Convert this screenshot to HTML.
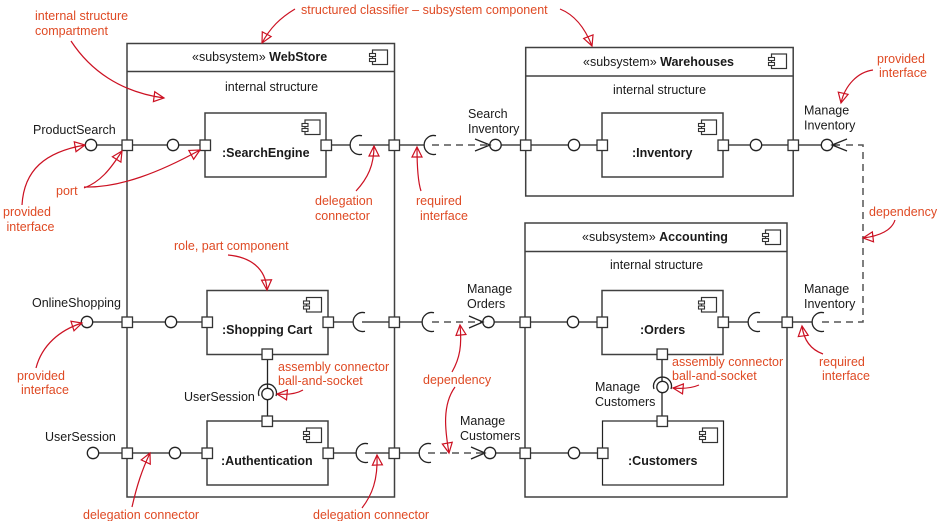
<!DOCTYPE html>
<html><head><meta charset="utf-8"><style>
html,body{margin:0;padding:0;background:#fff}
svg{display:block}
text{font-family:"Liberation Sans",sans-serif;font-size:12.5px;fill:#1a1a1a}
.r{fill:#df4a24}
.b{font-weight:bold}
.box{fill:#fff;stroke:#404040;stroke-width:1.5}
.thin{fill:#fff;stroke:#222;stroke-width:1.2}
.l{fill:none;stroke:#222;stroke-width:1.3}
.d{fill:none;stroke:#555;stroke-width:1.5;stroke-dasharray:7 5}
.c{fill:none;stroke:#cc1122;stroke-width:1.2;marker-end:url(#a)}
.ball{fill:#fff;stroke:#222;stroke-width:1.3}
.p{fill:#fff;stroke:#333;stroke-width:1.3}
.o{fill:none;stroke:#222;stroke-width:1.3}
</style></head><body>
<svg width="940" height="521" viewBox="0 0 940 521" xmlns="http://www.w3.org/2000/svg">
<defs>
<marker id="a" markerUnits="userSpaceOnUse" markerWidth="14" markerHeight="14" refX="10" refY="5" orient="auto" overflow="visible">
<path d="M0 0L10 5L0 10Z" fill="none" stroke="#cc1122" stroke-width="1.2"/>
</marker>
<g id="ic"><rect x="3" y="0" width="15" height="14.5" fill="#fff" stroke="#333" stroke-width="1.2"/><rect x="0" y="3.5" width="6" height="3" fill="#fff" stroke="#333" stroke-width="1.1"/><rect x="0" y="8.5" width="6" height="3" fill="#fff" stroke="#333" stroke-width="1.1"/></g>
</defs>

<!-- subsystems -->
<rect class="box" x="127" y="43.5" width="267.5" height="453.5"/><path class="box" d="M127 71.5H394.5"/>
<rect class="box" x="525.7" y="47.5" width="267.5" height="148.5"/><path class="box" d="M525.7 76H793"/>
<rect class="box" x="525" y="223" width="262" height="274"/><path class="box" d="M525 251.5H787"/>
<use href="#ic" x="369.5" y="50"/><use href="#ic" x="768.5" y="54"/><use href="#ic" x="762.5" y="230"/>

<!-- row 1 wires -->
<path class="l" d="M97 145H205M331 145H350.5M359 145H424.5M501 145H602M728 145H821M833 145H840"/>
<!-- row 2 wires -->
<path class="l" d="M93 322H207M333 322H353M362 322H422M494 322H602M728 322H748M757 322H812"/>
<!-- row 3 wires -->
<path class="l" d="M99 453H207M333 453H356M365 453H419M496 453H602"/>
<!-- vertical assemblies -->
<path class="l" d="M267.5 354V421M662 354V421"/>

<!-- dashed -->
<path class="d" d="M432 145H488M432 322H482M428 453H484"/>
<path class="d" d="M846 145H863V322H822"/>

<!-- parts -->
<rect class="box" x="205" y="113" width="121" height="64"/>
<rect class="box" x="602" y="113" width="121" height="64"/>
<rect class="box" x="207" y="290.5" width="121" height="64"/>
<rect class="box" x="207" y="421" width="121" height="64"/>
<rect class="box" x="602" y="290.5" width="121" height="64"/>
<rect class="thin" x="602.5" y="421" width="121" height="64"/>
<use href="#ic" x="302" y="120"/><use href="#ic" x="698.5" y="120"/>
<use href="#ic" x="303.5" y="297.5"/><use href="#ic" x="303.5" y="428"/>
<use href="#ic" x="698.5" y="297.5"/><use href="#ic" x="699.5" y="428"/>

<!-- balls -->
<g class="ball">
<circle cx="91" cy="145" r="5.7"/><circle cx="173" cy="145" r="5.7"/><circle cx="574" cy="145" r="5.7"/><circle cx="756" cy="145" r="5.7"/><circle cx="495.5" cy="145" r="5.7"/><circle cx="827" cy="145" r="5.7"/>
<circle cx="87" cy="322" r="5.7"/><circle cx="171" cy="322" r="5.7"/><circle cx="573" cy="322" r="5.7"/><circle cx="488.5" cy="322" r="5.7"/>
<circle cx="93" cy="453" r="5.7"/><circle cx="175" cy="453" r="5.7"/><circle cx="574" cy="453" r="5.7"/><circle cx="490" cy="453" r="5.7"/>
<circle cx="267.5" cy="394" r="5.7"/><circle cx="662.5" cy="387" r="5.7"/>
</g>

<!-- sockets -->
<g class="o">
<path d="M362 135.8A9.5 9.5 0 1 0 362 154.200"/><path d="M436 135.8A9.5 9.5 0 1 0 436 154.200"/>
<path d="M365 312.8A9.5 9.5 0 1 0 365 331.200"/><path d="M434 312.8A9.5 9.5 0 1 0 434 331.200"/>
<path d="M760 312.8A9.5 9.5 0 1 0 760 331.200"/><path d="M824 312.8A9.5 9.5 0 1 0 824 331.200"/>
<path d="M368 443.8A9.5 9.5 0 1 0 368 462.200"/><path d="M431 443.8A9.5 9.5 0 1 0 431 462.200"/>
<path d="M259 396A9 9 0 1 1 276 396"/><path d="M654 389A9 9 0 1 1 671 389"/>
</g>

<!-- open arrows -->
<g class="o">
<path d="M475 139L490 145L475 151"/><path d="M469 316L483 322L469 328"/><path d="M471 447L485 453L471 459"/>
<path d="M847 139L832 145L847 151"/>
</g>

<!-- ports -->
<g class="p">
<rect x="122" y="140" width="10.500" height="10.500"/><rect x="200" y="140" width="10.500" height="10.500"/><rect x="321" y="140" width="10.500" height="10.500"/><rect x="389" y="140" width="10.500" height="10.500"/><rect x="520.500" y="140" width="10.500" height="10.500"/><rect x="597" y="140" width="10.500" height="10.500"/><rect x="718" y="140" width="10.500" height="10.500"/><rect x="788" y="140" width="10.500" height="10.500"/>
<rect x="122" y="317" width="10.500" height="10.500"/><rect x="202" y="317" width="10.500" height="10.500"/><rect x="323" y="317" width="10.500" height="10.500"/><rect x="389" y="317" width="10.500" height="10.500"/><rect x="520" y="317" width="10.500" height="10.500"/><rect x="597" y="317" width="10.500" height="10.500"/><rect x="718" y="317" width="10.500" height="10.500"/><rect x="782" y="317" width="10.500" height="10.500"/>
<rect x="122" y="448" width="10.500" height="10.500"/><rect x="202" y="448" width="10.500" height="10.500"/><rect x="323" y="448" width="10.500" height="10.500"/><rect x="389" y="448" width="10.500" height="10.500"/><rect x="520" y="448" width="10.500" height="10.500"/><rect x="597.500" y="448" width="10.500" height="10.500"/>
<rect x="262" y="349" width="10.500" height="10.500"/><rect x="262" y="416" width="10.500" height="10.500"/><rect x="657" y="349" width="10.500" height="10.500"/><rect x="657" y="416" width="10.500" height="10.500"/>
</g>

<!-- curves -->
<path class="c" d="M71 41C90 70 120 92 164 98"/>
<path class="c" d="M295 9C280 18 270 28 262 43"/>
<path class="c" d="M560 9C575 15 585 28 592 46"/>
<path class="c" d="M22 205C24 170 45 152 85 145"/>
<path class="c" d="M84 188C100 182 110 170 122 151"/>
<path class="c" d="M84 187C120 188 160 172 200 150"/>
<path class="c" d="M356 191C368 178 374 165 374 146"/>
<path class="c" d="M421 191C418 182 417 165 417 147"/>
<path class="c" d="M895 220C892 230 880 236 863 238"/>
<path class="c" d="M873 70C858 72 845 85 841 103"/>
<path class="c" d="M228 255C250 257 266 268 267 290"/>
<path class="c" d="M36 368C42 345 60 330 82 323"/>
<path class="c" d="M303 390C296 394 288 395 277 394"/>
<path class="c" d="M452 372C460 358 462 345 460 325"/>
<path class="c" d="M455 387C442 405 445 430 449 453"/>
<path class="c" d="M132 507C137 485 142 470 150 453"/>
<path class="c" d="M362 508C372 495 378 480 377 455"/>
<path class="c" d="M699 385C692 388 684 389 673 388"/>
<path class="c" d="M823 354C812 350 804 342 802 326"/>

<!-- black text -->
<text x="192" y="61">«subsystem» <tspan class="b">WebStore</tspan></text>
<text x="583" y="66">«subsystem» <tspan class="b">Warehouses</tspan></text>
<text x="582" y="241">«subsystem» <tspan class="b">Accounting</tspan></text>
<text x="225" y="91">internal structure</text>
<text x="613" y="94">internal structure</text>
<text x="610" y="269">internal structure</text>
<text x="222" y="157" class="b">:SearchEngine</text>
<text x="632" y="157" class="b">:Inventory</text>
<text x="222" y="334" class="b">:Shopping Cart</text>
<text x="221" y="465" class="b">:Authentication</text>
<text x="640" y="334" class="b">:Orders</text>
<text x="628" y="465" class="b">:Customers</text>
<text x="33" y="134">ProductSearch</text>
<text x="32" y="307">OnlineShopping</text>
<text x="45" y="441">UserSession</text>
<text x="184" y="401">UserSession</text>
<text x="468" y="118">Search</text><text x="468" y="133">Inventory</text>
<text x="804" y="114.500">Manage</text><text x="804" y="129.500">Inventory</text>
<text x="804" y="293">Manage</text><text x="804" y="308">Inventory</text>
<text x="467" y="293">Manage</text><text x="467" y="308">Orders</text>
<text x="460" y="425">Manage</text><text x="460" y="440">Customers</text>
<text x="595" y="391">Manage</text><text x="595" y="406">Customers</text>

<!-- red text -->
<text class="r" x="35" y="20">internal structure</text><text class="r" x="35" y="35">compartment</text>
<text class="r" x="301" y="14">structured classifier – subsystem component</text>
<text class="r" x="56" y="195">port</text>
<text class="r" x="3" y="216">provided</text><text class="r" x="6.500" y="231">interface</text>
<text class="r" x="315" y="205">delegation</text><text class="r" x="315" y="220">connector</text>
<text class="r" x="416" y="205">required</text><text class="r" x="420" y="220">interface</text>
<text class="r" x="174" y="250">role, part component</text>
<text class="r" x="877" y="63">provided</text><text class="r" x="879" y="77">interface</text>
<text class="r" x="869" y="216">dependency</text>
<text class="r" x="17" y="380">provided</text><text class="r" x="21" y="394">interface</text>
<text class="r" x="278" y="371">assembly connector</text><text class="r" x="278" y="385">ball-and-socket</text>
<text class="r" x="423" y="384">dependency</text>
<text class="r" x="672" y="366">assembly connector</text><text class="r" x="672" y="380">ball-and-socket</text>
<text class="r" x="819" y="366">required</text><text class="r" x="822" y="380">interface</text>
<text class="r" x="83" y="519">delegation connector</text>
<text class="r" x="313" y="519">delegation connector</text>
</svg>
</body></html>
